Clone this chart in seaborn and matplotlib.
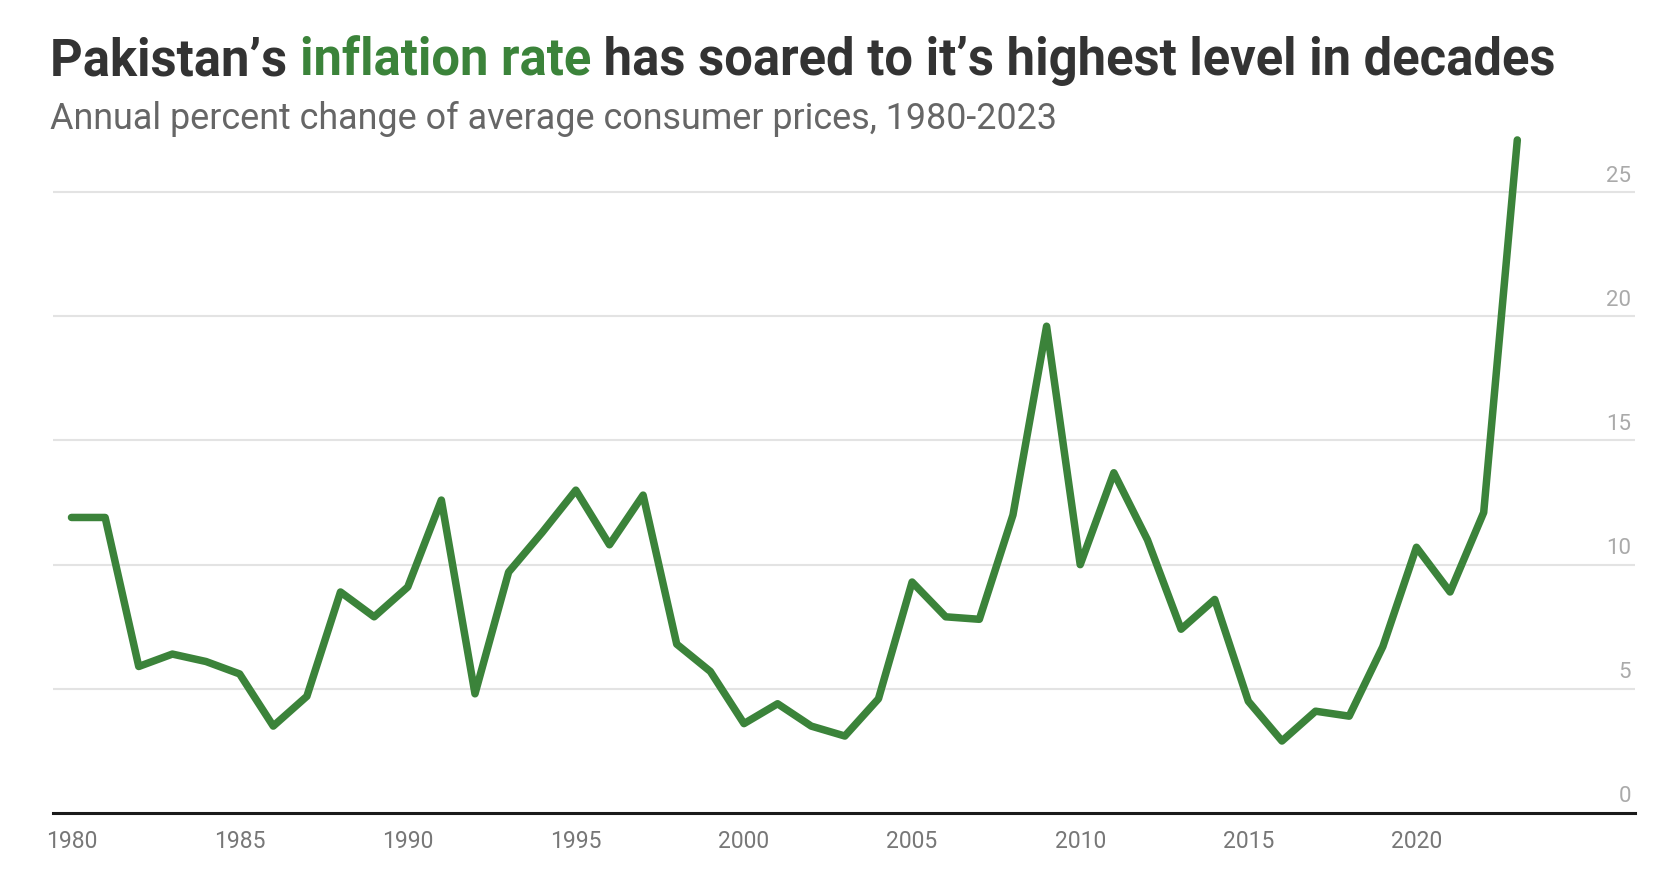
import numpy as np
import pandas as pd
import matplotlib
matplotlib.use("Agg")
import matplotlib.pyplot as plt
import seaborn as sns

# annual percent change of average consumer prices
years = list(range(1980, 2024))
inflation = [11.9, 11.9, 5.9, 6.4, 6.1, 5.6, 3.5, 4.7, 8.9, 7.9,
             9.1, 12.6, 4.8, 9.7, 11.3, 13.0, 10.8, 12.8, 6.8, 5.7,
             3.6, 4.4, 3.5, 3.1, 4.6, 9.3, 7.9, 7.8, 12.0, 19.6,
             10.0, 13.7, 11.0, 7.4, 8.6, 4.5, 2.9, 4.1, 3.9, 6.7,
             10.7, 8.9, 12.1, 27.1]
x_ticks = [1980, 1985, 1990, 1995, 2000, 2005, 2010, 2015, 2020]
y_ticks = [0, 5, 10, 15, 20, 25]

df = pd.DataFrame({"year": years, "inflation": inflation})

green = "#3b833a"

sns.set_theme(style="white")
plt.rcParams['font.family'] = ['Roboto', 'DejaVu Sans']

fig = plt.figure(figsize=(16.67, 8.82), dpi=100)
ax = fig.add_axes([0.0318, 0.0782, 0.949, 0.7744])

# gridlines
for t in y_ticks[1:]:
    ax.axhline(t, color="#e3e3e3", lw=1.5, zorder=0)

sns.lineplot(data=df, x="year", y="inflation", ax=ax, color=green,
             linewidth=5.4, solid_joinstyle="round", solid_capstyle="round",
             clip_on=False, zorder=3)

ax.set_xlim(1979.45, 2026.5)
ax.set_ylim(0, 27.5)
sns.despine(ax=ax, left=True, right=True, top=True)
ax.spines["bottom"].set_color("#1a1a1a")
ax.spines["bottom"].set_linewidth(2.2)

ax.set_xticks(x_ticks)
ax.set_xticklabels([str(t) for t in x_ticks])
ax.tick_params(axis="x", length=0, pad=12, labelsize=16.5, labelcolor="#777777")
ax.set_yticks([])
ax.set_xlabel("")
ax.set_ylabel("")

# y labels sit inside the plot, right aligned, above the gridline
for t in y_ticks:
    ax.annotate(str(t), xy=(1.0, t), xycoords=("axes fraction", "data"),
                xytext=(-3, 4), textcoords="offset points",
                ha="right", va="bottom", fontsize=16, color="#aaaaaa")

# title with a coloured phrase
title_parts = [("Pakistan’s ", "#333333"), ("inflation rate", green),
               (" has soared to it’s highest level in decades", "#333333")]
renderer = fig.canvas.get_renderer()
xpos = 50 / 1667
for txt, col in title_parts:
    t = fig.text(xpos, 1 - 75 / 882, txt, color=col, fontsize=36.5,
                 fontweight="bold", ha="left", va="baseline")
    bb = t.get_window_extent(renderer=renderer)
    xpos += bb.width / fig.bbox.width

fig.text(50 / 1667, 1 - 129 / 882,
         "Annual percent change of average consumer prices, 1980-2023",
         color="#666666", fontsize=25.8, ha="left", va="baseline")

fig.savefig("out.png", dpi=100, facecolor="white")
